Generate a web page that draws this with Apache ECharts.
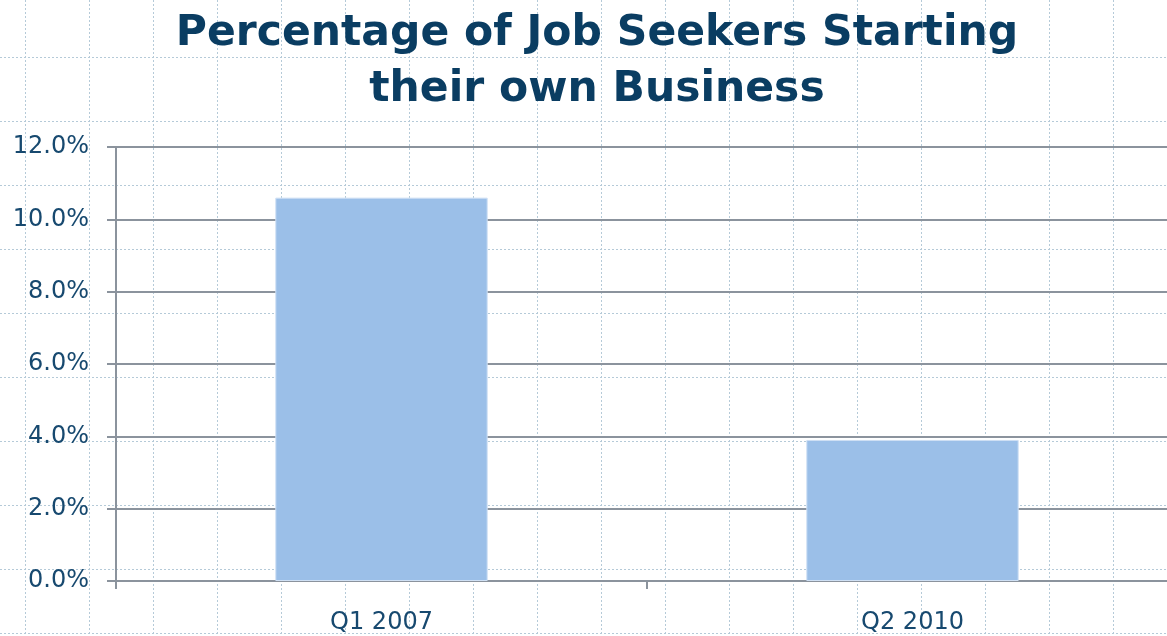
<!DOCTYPE html>
<html>
<head>
<meta charset="utf-8">
<style>
  html, body { margin: 0; padding: 0; background: #ffffff; overflow: hidden; }
  /* the plot runs a little past the right edge of the page */
  #chart { width: 1178px; height: 636px; }
</style>
<script src="https://cdn.jsdelivr.net/npm/echarts@6/dist/echarts.min.js"></script>
</head>
<body>
<div id="chart"></div>
<script>
// Share of job seekers who started their own business, by quarter (%)
const categories = ['Q1 2007', 'Q2 2010'];
const sharePct = [10.6, 3.9];
const titleText = 'Percentage of Job Seekers Starting\ntheir own Business';

const W = 1178, H = 636;
const labelColor = '#17496f';
const axisGray = '#8b939d';

// dotted graph-paper backdrop
const paper = [];
const step = 64;
for (let x = 25; x < W; x += step) {
  paper.push({
    type: 'line', silent: true, z: -10,
    shape: { x1: x + 0.5, y1: 0, x2: x + 0.5, y2: H },
    style: { stroke: '#b5cad8', lineWidth: 1, lineDash: [2, 2] }
  });
}
for (let y = 57; y < H; y += step) {
  paper.push({
    type: 'line', silent: true, z: -10,
    shape: { x1: 0, y1: y + 0.5, x2: W, y2: y + 0.5 },
    style: { stroke: '#b5cad8', lineWidth: 1, lineDash: [2, 2] }
  });
}

const chart = echarts.init(document.getElementById('chart'), null, { renderer: 'canvas' });
chart.setOption({
  backgroundColor: '#ffffff',
  animation: false,
  graphic: { elements: paper },
  title: {
    text: titleText,
    left: 592,
    top: 1,
    textAlign: 'center',
    textStyle: {
      fontFamily: 'DejaVu Sans',
      fontWeight: 'bold',
      fontSize: 42.5,
      lineHeight: 56,
      color: '#0a3d62'
    }
  },
  grid: { left: 116, right: 0, top: 147, bottom: 55, containLabel: false },
  xAxis: {
    type: 'category',
    data: categories,
    boundaryGap: true,
    axisLine: { show: true, lineStyle: { color: axisGray, width: 2 } },
    axisTick: { show: true, length: 8, alignWithLabel: false, lineStyle: { color: axisGray, width: 2 } },
    axisLabel: { margin: 30, fontFamily: 'DejaVu Sans', fontSize: 24, color: labelColor },
    splitLine: { show: false }
  },
  yAxis: {
    type: 'value',
    min: 0,
    max: 12,
    interval: 2,
    axisLine: { show: true, lineStyle: { color: axisGray, width: 2 } },
    axisTick: { show: true, length: 9, lineStyle: { color: axisGray, width: 2 } },
    axisLabel: {
      margin: 27,
      fontFamily: 'DejaVu Sans',
      fontSize: 24,
      color: labelColor,
      formatter: v => v.toFixed(1) + '%'
    },
    splitLine: { show: true, lineStyle: { color: axisGray, width: 2 } }
  },
  series: [{
    type: 'bar',
    data: sharePct,
    barWidth: '40%',
    itemStyle: { color: '#9bbfe8', borderColor: '#cfe0f4', borderWidth: 1 }
  }]
});
</script>
</body>
</html>
